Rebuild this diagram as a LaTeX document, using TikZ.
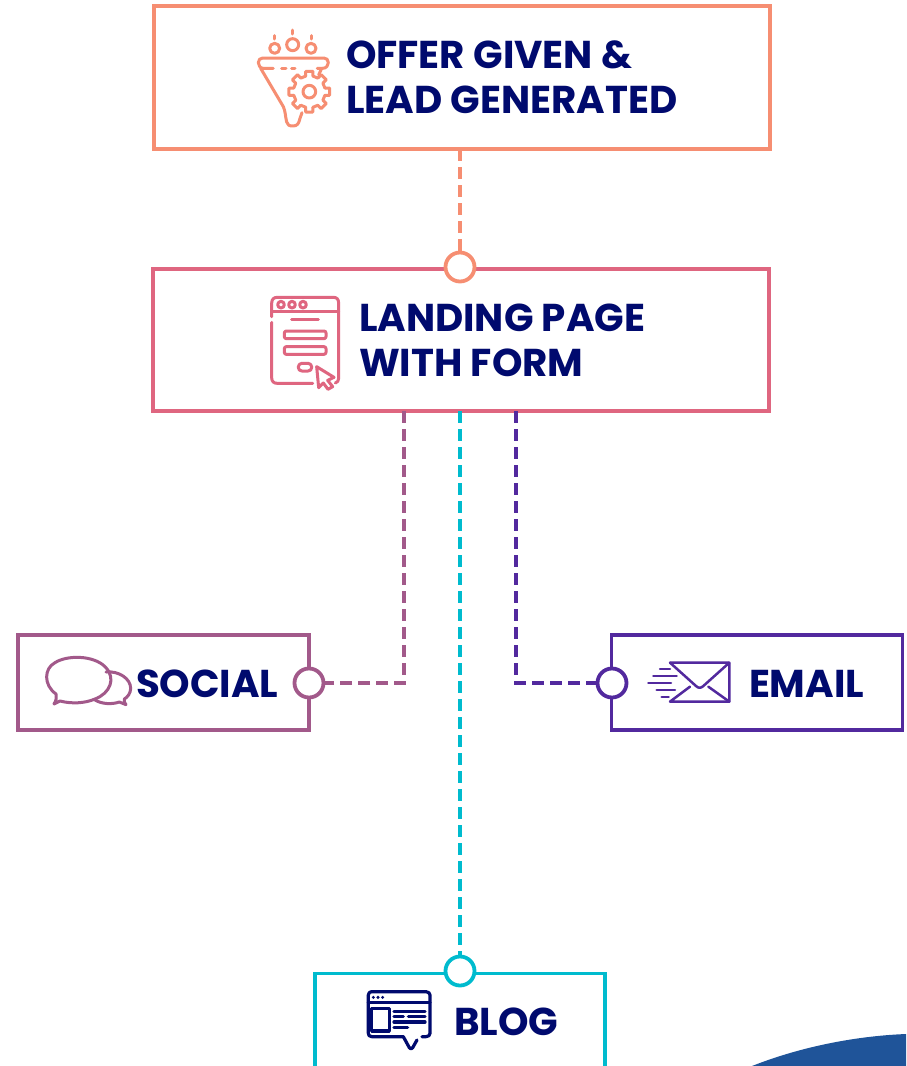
\documentclass[tikz,border=0pt]{standalone}
\usepackage{fontspec}
\setmainfont{Poppins}
\definecolor{corange}{HTML}{F68E72}
\definecolor{crose}{HTML}{DF6680}
\definecolor{cmauve}{HTML}{A2598A}
\definecolor{cviolet}{HTML}{52299E}
\definecolor{cteal}{HTML}{00BBCE}
\definecolor{cnavy}{HTML}{000A6E}
\definecolor{cblue}{HTML}{1F5499}
\tikzset{
 boxnode/.style={draw=#1,line width=3.4pt,fill=white,inner sep=0pt,outer sep=0pt},
 ringnode/.style={circle,draw=#1,line width=3.8pt,fill=white,minimum size=29pt,inner sep=0pt,outer sep=0pt},
 linkline/.style={draw=#1,line width=3.6pt,dash pattern=on 12pt off 6pt},
 labeltext/.style={text=cnavy,inner sep=0pt,outer sep=0pt,anchor=west,align=left,font=\fontsize{38.8}{45}\selectfont\bfseries},
 iconline/.style={draw=#1,line width=3pt,line cap=round,line join=round},
 zoomed/.style={x=0.33333pt,y=-0.33333pt}
}
\begin{document}
\begin{tikzpicture}[x=1pt,y=-1pt]
\useasboundingbox (0,0) rectangle (906,1066);
\fill[cblue] (752,1066) .. controls (800,1047) and (855,1036) .. (906,1034) -- (906,1066) -- cycle;
% boxes
\node[boxnode=corange,minimum width=616pt,minimum height=143pt] (offer) at (462,77.5) {};
\node[boxnode=crose,minimum width=616pt,minimum height=142pt] (landing) at (461,340) {};
\node[boxnode=cmauve,minimum width=291pt,minimum height=95pt] (social) at (163.5,682.5) {};
\node[boxnode=cviolet,minimum width=291pt,minimum height=95pt] (email) at (757,682.5) {};
\node[boxnode=cteal,minimum width=290pt,minimum height=94pt] (blog) at (460,1020.5) {};
% junction coordinates
\coordinate (socialbend) at (404,683);
\coordinate (emailbend) at (516,683);
\coordinate (ringtop) at (460,267);
\coordinate (ringsocial) at (309,683);
\coordinate (ringemail) at (612,683);
\coordinate (ringblog) at (460,971);
% connectors
\draw[linkline=corange] (offer.south -| ringtop) -- (ringtop);
\draw[linkline=cmauve] (landing.south -| socialbend) -- (socialbend) -- (ringsocial);
\draw[linkline=cviolet] (landing.south -| emailbend) -- (emailbend) -- (ringemail);
\draw[linkline=cteal] (landing.south -| ringblog) -- (ringblog);
% rings
\node[ringnode=corange] (rtop) at (ringtop) {};
\node[ringnode=cmauve] (rsocial) at (ringsocial) {};
\node[ringnode=cviolet] (remail) at (ringemail) {};
\node[ringnode=cteal] (rblog) at (ringblog) {};
% labels
\node[labeltext] (offertext) at (346,77.2) {OFFER GIVEN \&\\LEAD GENERATED};
\node[labeltext] (landingtext) at (359,340.4) {LANDING PAGE\\WITH FORM};
\node[labeltext] (socialtext) at (136,684) {SOCIAL};
\node[labeltext] (emailtext) at (749,684) {EMAIL};
\node[labeltext] (blogtext) at (454,1022) {BLOG};
% funnel icon
\begin{scope}[shift={(240,20)},zoomed,iconline=corange]
\path[draw] (158,30) -- (158,42);
\path[draw] (104,47) -- (104,57);
\path[draw] (213,47) -- (213,57);
\path[draw] (104,85) circle (15);
\path[draw] (158,74) circle (18);
\path[draw] (213,85) circle (15);
\path[draw] (100,145) -- (70,145) .. controls (60,145) and (55,135) .. (55,128) .. controls (55,120) and (60,114) .. (68,114) -- (252,114) .. controls (260,114) and (265,120) .. (265,128) .. controls (265,135) and (260,145) .. (248,145) -- (232,145);
\path[draw] (125,145) -- (138,145) (155,145) -- (165,145);
\path[draw] (62,145) -- (130,260) .. controls (136,272) and (136,290) .. (140,306) .. controls (142,315) and (148,318) .. (158,318) .. controls (172,318) and (176,312) .. (180,295) -- (186,278);
\path[draw] (245,145) -- (236,165);
\begin{scope}[shift={(208,215)}]
\foreach \a in {0,45,...,315}{
 \path[draw] (\a-13:48) -- (\a-10:62) -- (\a+10:62) -- (\a+13:48) -- (\a+32:48);
}
\path[draw] (0,0) circle (19);
\end{scope}
\end{scope}
% form icon
\begin{scope}[shift={(260,285)},zoomed,iconline=crose]
\path[draw] (35,95) -- (35,55) .. controls (35,42) and (42,37) .. (52,37) -- (220,37) .. controls (230,37) and (236,42) .. (236,55) -- (236,280) .. controls (236,288) and (232,292) .. (226,294);
\path[draw] (35,112) -- (35,278) .. controls (35,290) and (42,295) .. (52,295) -- (158,295);
\path[draw] (35,78) -- (236,78);
\path[draw] (63,59) circle (10);
\path[draw] (96,59) circle (10);
\path[draw] (129,59) circle (10);
\path[draw] (95,104) -- (175,104);
\path[draw,rounded corners=2pt] (73,138) rectangle (198,161);
\path[draw,rounded corners=2pt] (73,185) rectangle (198,208);
\path[draw,rounded corners=3.5pt] (115,235) rectangle (155,258);
\path[draw] (170,245) -- (222,277) -- (203,286) -- (218,305) -- (204,313) -- (190,294) -- (176,308) -- cycle;
\end{scope}
% speech bubbles icon
\begin{scope}[shift={(30,640)},zoomed,iconline=cmauve]
\path[draw] (78,162) .. controls (40,135) and (42,85) .. (75,68) .. controls (110,45) and (190,45) .. (225,80) .. controls (260,115) and (240,160) .. (195,177) .. controls (165,190) and (125,192) .. (90,183) -- (72,192) .. controls (80,180) and (80,170) .. (78,162) -- cycle;
\path[draw] (228,96) .. controls (265,92) and (302,115) .. (302,145) .. controls (302,160) and (292,172) .. (283,177) .. controls (282,184) and (284,190) .. (288,194) -- (268,186) .. controls (245,194) and (215,192) .. (195,180);
\end{scope}
% envelope icon
\begin{scope}[shift={(590,640)},zoomed,iconline=cviolet,line width=2.5pt]
\path[draw] (240,68) -- (418,68) -- (418,185) -- (240,185) -- (300,140);
\path[draw] (240,68) -- (318,138) .. controls (325,145) and (333,145) .. (340,138) -- (418,68);
\path[draw] (355,140) -- (418,185);
\path[draw] (210,87) -- (240,87);
\path[draw] (190,108) -- (260,108);
\path[draw] (175,129) -- (243,129);
\path[draw] (200,150) -- (255,150);
\path[draw] (215,171) -- (236,171);
\end{scope}
% browser icon
\begin{scope}[shift={(350,950)},zoomed,iconline=cnavy,line width=3.2pt]
\path[draw] (160,260) -- (65,260) .. controls (58,260) and (55,255) .. (55,250) -- (55,135) .. controls (55,128) and (60,125) .. (65,125) -- (228,125) .. controls (235,125) and (240,130) .. (240,135) -- (240,250) .. controls (240,256) and (235,260) .. (228,260) -- (216,260);
\path[draw] (55,158) -- (240,158);
\path[draw] (65,175) rectangle (118,243);
\path[draw] (132,184) -- (225,184);
\path[draw] (132,200) -- (160,200) (175,200) -- (225,200);
\path[draw] (132,216) -- (225,216);
\path[draw] (132,233) -- (173,233);
\path[draw] (160,260) -- (178,293) .. controls (181,298) and (185,298) .. (188,293) -- (201,270);
\fill[cnavy] (70,142) circle (5) (84,142) circle (5) (98,142) circle (5);
\end{scope}
\end{tikzpicture}
\end{document}
